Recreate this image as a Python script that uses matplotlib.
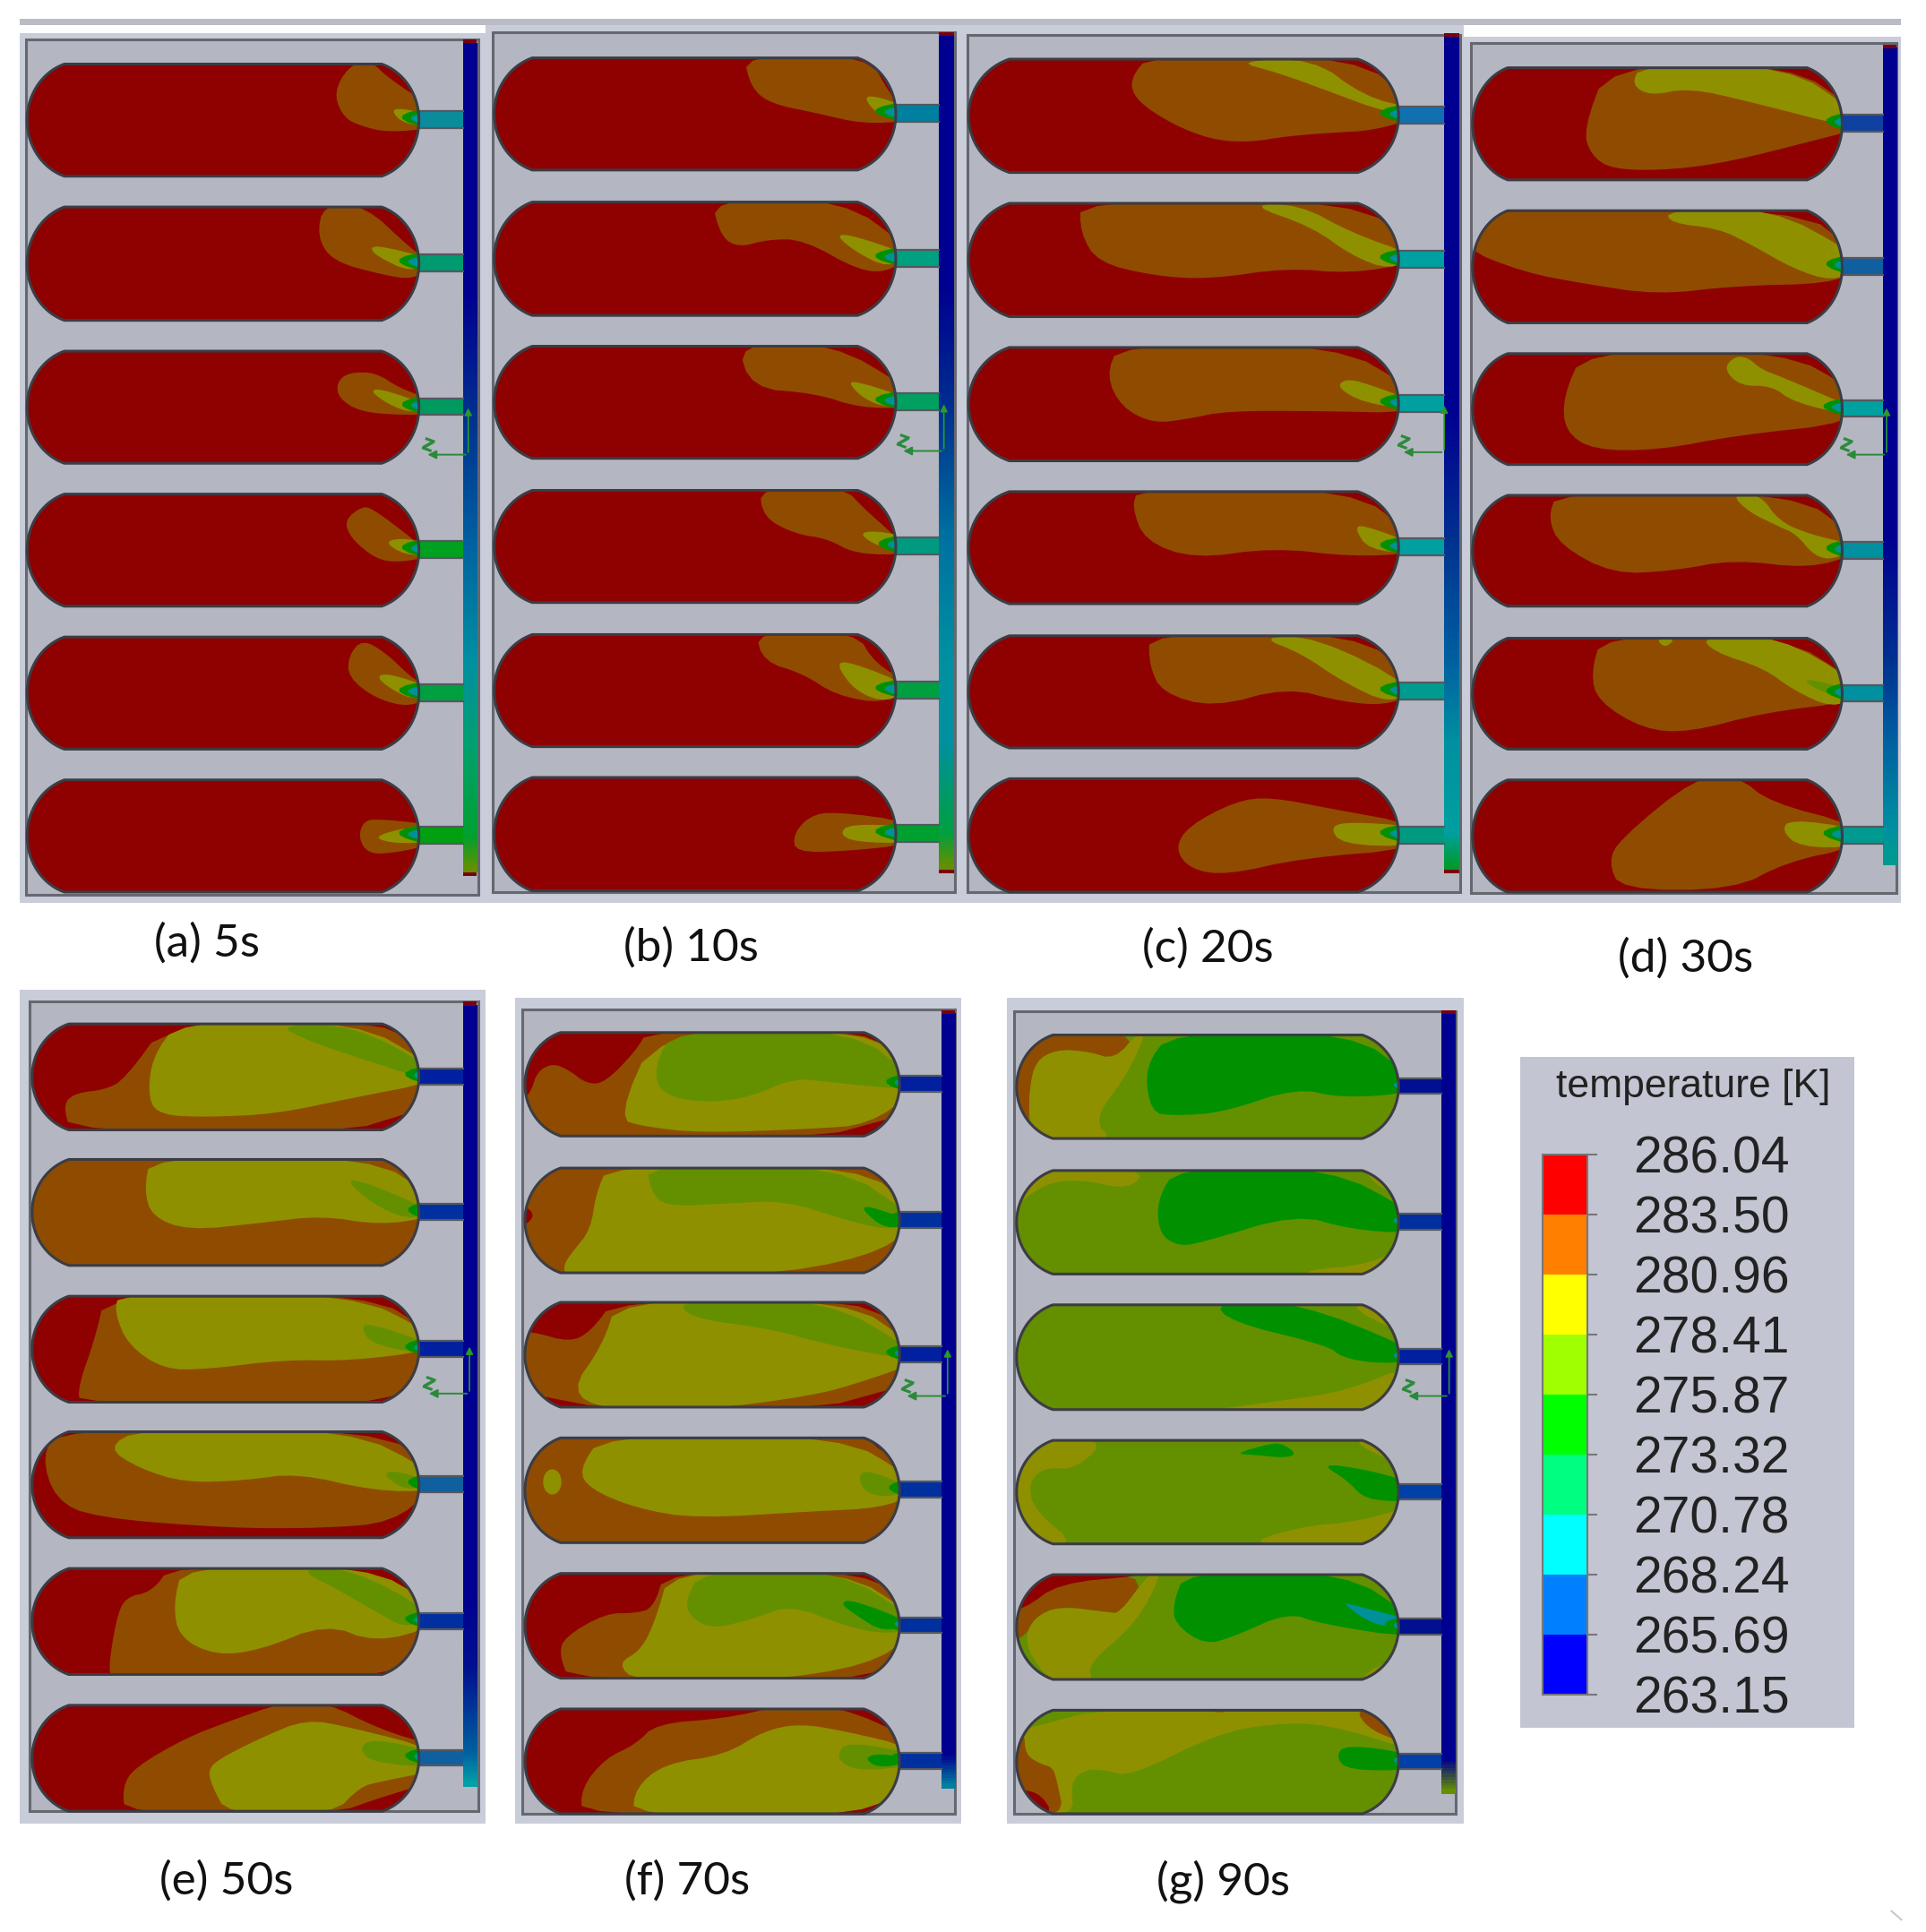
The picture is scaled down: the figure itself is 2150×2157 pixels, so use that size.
import numpy as np
import matplotlib
matplotlib.use("Agg")
import matplotlib.pyplot as plt
from matplotlib.patches import Rectangle, Polygon, PathPatch
from matplotlib.path import Path
from matplotlib.colors import ListedColormap, LinearSegmentedColormap

# legend
temp_ticks = [263.15, 265.69, 268.24, 270.78, 273.32, 275.87, 278.41, 280.96, 283.50, 286.04]
band_colors = ["#0000ff", "#0080ff", "#00ffff", "#00ff80", "#00ff00", "#a0ff00", "#ffff00", "#ff8000", "#ff0000"]

shade = {"R": "#8f0000", "O": "#8f4c00", "Y": "#8f9000", "L": "#649000", "G": "#009000", "T": "#009098"}

# panel frame, capsule extents, manifold in picture units
panel_names = ["(a) 5s", "(b) 10s", "(c) 20s", "(d) 30s", "(e) 50s", "(f) 70s", "(g) 90s"]
label_x = [168, 561, 980, 1368, 184, 558, 993]
label_y = [766, 769, 770, 778, 1527, 1527, 1527]
bg_box = [(16, 27, 394, 733), (394, 20, 780, 733), (780, 20, 1188, 733), (1188, 30, 1543, 733),
          (16, 803, 394, 1480), (418, 810, 780, 1480), (817, 810, 1188, 1480)]
frame_box = [(21, 32, 388, 726), (400, 26, 775, 724), (785, 28, 1185, 724), (1194, 35, 1539, 725),
             (24, 813, 388, 1470), (424, 819, 775, 1472), (823, 821, 1181, 1472)]
caps_x = [(22, 340), (401, 727), (786, 1135), (1195, 1495), (26, 340), (426, 730), (825, 1135)]
caps_y = [[(52, 143), (168, 260), (285, 376), (401, 492), (517, 608), (633, 724)],
          [(47, 138), (164, 256), (281, 372), (398, 489), (515, 606), (631, 723)],
          [(48, 140), (165, 257), (282, 374), (399, 490), (516, 607), (632, 724)],
          [(55, 146), (171, 262), (287, 377), (402, 492), (518, 608), (633, 724)],
          [(831, 917), (941, 1027), (1052, 1138), (1162, 1248), (1273, 1359), (1384, 1470)],
          [(838, 922), (948, 1033), (1057, 1142), (1167, 1252), (1277, 1362), (1387, 1472)],
          [(840, 924), (950, 1034), (1059, 1144), (1169, 1253), (1278, 1363), (1388, 1472)]]
header_x = [(376, 387), (762, 774), (1172, 1184), (1528, 1539), (376, 387), (764, 775), (1170, 1181)]
header_y = [(35, 708), (29, 706), (30, 706), (39, 702), (816, 1450), (823, 1452), (823, 1456)]
header_cap = [True, True, True, False, False, False, False]
triad = [(380, 369), (766, 366), (1172, 367), (1531, 369), (381, 1131), (769, 1133), (1176, 1133)]

header_stops = [0, 0.3, 0.45, 0.6, 0.75, 0.85, 0.96, 1]
header_colors = [
    ["#000090", "#000090", "#00308f", "#0060a0", "#0090a0", "#00a070", "#00a030", "#649000"],
    ["#000090", "#000090", "#00308f", "#0070a0", "#0090a0", "#0090a0", "#00a040", "#649000"],
    ["#000090", "#000090", "#000090", "#00308f", "#0060a0", "#0090a0", "#00a0a0", "#009a30"],
    ["#000090", "#000090", "#000090", "#000090", "#00308f", "#0060a0", "#0090a0", "#009a90"],
    ["#000090", "#000090", "#000090", "#000090", "#000090", "#00108f", "#0060a0", "#00a0a8"],
    ["#000090", "#000090", "#000090", "#000090", "#000090", "#000090", "#000090", "#0080a0"],
    ["#000090", "#000090", "#000090", "#000090", "#000090", "#000090", "#000090", "#649000"],
]
stub_colors = [
    ["#0a8c9c", "#009a70", "#009a60", "#00a020", "#00a040", "#00a010"],
    ["#0080a0", "#00a080", "#00a060", "#009a80", "#00a040", "#00a030"],
    ["#1070b0", "#00a0a0", "#00a0a0", "#00a0a0", "#009a90", "#009a80"],
    ["#1040a0", "#1060a0", "#00a0a0", "#0090a0", "#0090a0", "#009a90"],
    ["#0020a0", "#0030a0", "#0020a0", "#1060a0", "#0030a0", "#1060a0"],
    ["#0020a0", "#0030a0", "#0020a0", "#0030a0", "#0030a0", "#0030a0"],
    ["#001090", "#0030a0", "#0020a0", "#0040a8", "#001090", "#0040a8"],
]
tip_u = [[93, 92, 93, 93, 92, 92], [92, 92, 92, 93, 92, 92], [93, 93, 93, 93, 93, 93],
         [93, 93, 92, 93, 93, 92], [94, 95, 94, 95, 94, 94], [94, 95, 94, 95, 94, 95],
         [94, 94, 94, 95, 94, 94]]

# temperature zones, percent of capsule width/height, drawn in order over base colour
base_a = ["R"] * 6
zones_a = [
    [("O", [(84, -2), (80, 12), (78.5, 30), (81, 48), (85, 55), (92, 61), (100, 57), (100, 40), (92, 12), (88, -2)]),
     ("Y", [(93, 42), (95, 39), (100, 46), (100, 56), (96, 53)])],
    [("O", [(75.6, -2), (74, 26), (78, 48), (91, 60), (98.5, 64), (100, 51), (98, 37), (86, -2)]),
     ("Y", [(87.5, 35), (91, 35), (100, 46), (98, 58), (89, 43)])],
    [("O", [(79, 28), (82, 19), (89, 19), (95, 33), (100, 44), (100, 56), (95, 57), (85, 54), (79.5, 42)]),
     ("Y", [(87.5, 36), (90, 33), (100, 50), (99, 55), (93.5, 50)])],
    [("O", [(85.5, 11), (81, 23), (82.5, 39), (89, 58), (95, 61), (100, 55), (99, 42), (94, 28), (88, 13)]),
     ("Y", [(91, 42), (97, 39), (100, 47), (100, 55), (96, 54)])],
    [("O", [(85.5, 2), (82, 17), (82, 36), (89, 55), (98, 63), (100, 49), (98, 36), (91.5, 14)]),
     ("Y", [(89, 36), (92, 32), (100, 46), (99, 56), (94, 49)])],
    [("O", [(86, 36), (90.5, 35), (100, 40), (100, 57), (94, 65), (87, 66), (84.5, 51)]),
     ("Y", [(88, 51), (97, 42), (100, 43), (100, 55), (94, 57)])],
]
base_b = ["R"] * 6
zones_b = [
    [("O", [(62, -3), (64, 27), (69, 41), (80, 49), (92, 59), (100, 56), (99, 35), (93, -3)]),
     ("Y", [(92, 35), (95, 34), (100, 45), (99, 55), (95, 49)])],
    [("O", [(54, -3), (56.5, 31), (61, 40), (68, 33), (77, 33), (91, 61), (99, 61), (100, 42), (86.5, -3)]),
     ("Y", [(85, 29), (89, 29), (100, 47), (98, 58), (90, 44)])],
    [("O", [(60.5, -3), (64, 37.5), (80, 42), (91, 55), (100, 55), (100, 39), (84, -3)]),
     ("Y", [(88, 32), (91, 32), (100, 47), (98, 55), (92, 47)])],
    [("O", [(66, -3), (67, 24), (75, 39), (83, 43), (90, 57), (100, 57), (99, 38), (92, 16), (87, -3)]),
     ("Y", [(91, 38), (95, 36), (100, 42), (99, 53), (94, 47)])],
    [("O", [(65, -3), (67, 24), (77, 35), (85, 54), (97, 62), (100, 43), (95, 27), (90, -3)]),
     ("Y", [(85, 26), (88.5, 24), (100, 46), (98, 61), (90, 51)])],
    [("O", [(74.5, 50), (78.5, 34), (84.5, 30), (100, 39), (100, 59), (87.6, 65), (75, 66)]),
     ("Y", [(86, 50), (88.4, 41), (100, 43), (100, 58), (90, 57)])],
]
base_c = ["R"] * 6
zones_c = [
    [("O", [(42, -3), (38, 15), (38, 30), (42, 45), (50, 62), (58, 72), (66, 73), (74, 68), (84, 65), (94, 63), (100, 52), (100, 40), (90, -3)]),
     ("Y", [(62, 2), (72, 12), (85, 30), (94, 43), (100, 52), (100, 44), (92, 33), (80, -1)])],
    [("O", [(26, -3), (26, 26), (30, 52), (43, 64), (56, 67), (74, 57), (89, 62), (100, 52), (100, 39), (90, -3)]),
     ("Y", [(65, 1), (77, 1), (89, 26), (100, 46), (98, 59), (89, 46), (80, 21)])],
    [("O", [(35, -3), (32, 25), (35.6, 53), (43, 67), (51, 63), (60, 56), (81, 56), (100, 58), (100, 38), (85.5, -3)]),
     ("Y", [(85.5, 35), (88, 27), (95, 35), (100, 48), (100, 55), (92, 49)])],
    [("O", [(39.5, -3), (38, 14), (41, 44), (52.4, 60), (71, 50), (89, 58), (100, 55), (100, 40), (89, -3)]),
     ("Y", [(89.7, 32), (92, 30), (100, 47), (100, 55), (93, 52)])],
    [("O", [(42, -3), (42, 26), (45, 51), (57, 64), (74, 46), (87, 59), (97, 62), (100, 51), (100, 39), (90, -3)]),
     ("Y", [(67.6, 1), (81, 1), (100, 46), (98, 61), (87, 41), (77.5, 16)])],
    [("O", [(48, 62), (51, 42), (62, 20), (70, 16), (85, 27), (100, 40), (100, 62), (77.5, 70), (60, 85), (51.6, 80)]),
     ("Y", [(84, 42), (89, 38), (100, 42), (100, 60), (86.7, 58)])],
]
base_d = ["R"] * 6
zones_d = [
    [("O", [(36.6, -3), (30, 55), (32, 78), (38, 91), (54.5, 91), (70.7, 83), (91, 66), (100, 55), (100, 38), (86, -3)]),
     ("Y", [(45.5, -2), (43, 15), (48, 25), (58.5, 18), (74.7, 30), (100, 55), (100, 40), (85, -2)])],
    [("O", [(-3, -3), (88, -3), (100, 37), (100, 52), (97, 65), (71, 67), (50, 75), (30, 65), (14, 55), (-3, 33)]),
     ("Y", [(52.4, 0), (53.6, 11), (66.6, 16), (74.7, 29), (86.9, 52), (97.4, 63), (100, 52), (100, 39), (80.4, -3)])],
    [("O", [(30, -3), (24.5, 39), (25, 70), (32.6, 87), (50.4, 87), (70.7, 74), (100, 62), (100, 34), (84, -3)]),
     ("Y", [(68, 14), (70.6, 3), (74.3, 3), (78, 14), (83.6, 21), (100, 50), (100, 57), (86.9, 44), (81, 29), (72.3, 29)])],
    [("O", [(23, -3), (20.4, 20), (23.6, 45), (38, 71), (54.5, 68), (70.7, 58), (91, 66), (100, 53), (100, 38), (87, -3)]),
     ("Y", [(70, -1), (77.8, -1), (82.8, 23), (91, 35), (100, 45), (98, 58), (92.5, 55), (87.6, 35), (82.8, 28), (74.7, 15)])],
    [("O", [(35, -3), (32, 32), (34, 57), (46.3, 82), (58.5, 85), (78.8, 67), (100, 57), (100, 39), (83.6, -3)]),
     ("Y", [(62, -2), (65, 12), (78.8, 27), (86.9, 47), (97.4, 63), (100, 52), (100, 39), (82.8, -2)]),
     ("Y", [(49.6, 0), (52, 9), (55, 0)]),
     ("L", [(88.5, 37), (95, 39), (100, 50), (96.6, 52)])],
    [("O", [(60.5, -3), (72, -3), (80.4, 20), (100, 40), (100, 60), (85, 73), (70.7, 98), (40, 98), (36.8, 73), (39.8, 53)]),
     ("Y", [(83.6, 45), (86, 35), (100, 43), (100, 60), (88.5, 60)])],
]
base_e = ["R", "O", "R", "R", "R", "R"]
zones_e = [
    [("O", [(35, -3), (24, 52), (19, 62), (11.5, 65), (8, 75), (10, 103), (103, 103), (103, -3)]),
     ("R", [(91, -3), (103, -3), (103, 37), (100, 37)]),
     ("Y", [(38, -3), (30.9, 32), (30, 72), (33.4, 86), (45, 88), (63, 85), (82.5, 70), (100, 55), (100, 40), (83.6, -3)]),
     ("L", [(63.4, 1), (70.8, 15), (82.5, 30), (100, 55), (100, 42), (83, 1)])],
    [("R", [(24, -3), (27, -3), (27, 1), (24, 1)]),
     ("Y", [(30.6, -3), (29, 29), (31, 54), (40.4, 67), (59, 60), (74.7, 53), (90, 62), (100, 54), (100, 36), (87.5, -3)]),
     ("L", [(80.9, 19), (86, 21), (100, 49), (97, 57), (88, 42)])],
    [("O", [(19, -3), (16.2, 41), (12, 84), (12.3, 103), (103, 103), (103, 36), (100, 36), (87, -3)]),
     ("Y", [(22.5, -3), (21.3, 15), (24.8, 46), (34, 69), (45, 69), (65, 60), (82.5, 61), (100, 51), (100, 36), (82.5, -3)]),
     ("L", [(85, 30), (87, 25), (100, 46), (100, 56), (88, 46)])],
    [("O", [(7, -3), (89.5, -3), (100, 36), (100, 53), (93, 86), (75, 91), (51, 91), (16, 81), (6, 64), (2.5, 23)]),
     ("Y", [(19.3, 15), (28, -3), (81.7, -3), (100, 38), (100, 56), (88.7, 56), (68.4, 39), (55, 46), (39.6, 48), (27.9, 35)]),
     ("L", [(90.6, 41), (93.4, 36), (100, 48), (97, 56)])],
    [("O", [(36, -3), (31, 22), (24, 27), (21.7, 49), (19.7, 95), (21, 103), (103, 103), (103, 42), (100, 42), (88, -3)]),
     ("Y", [(39, -3), (36.5, 34), (38, 65), (47.4, 82), (59, 77), (76, 52), (88.7, 70), (100, 55), (100, 34), (86.3, -3)]),
     ("L", [(68.4, 0), (82.5, 0), (100, 42), (97, 57), (89.4, 42), (78.6, 19)])],
    [("O", [(65, -3), (76, -3), (90, 23), (100, 38), (100, 72), (90, 87), (77.8, 103), (24, 103), (23.4, 77), (26.4, 59), (39.6, 31), (51, 15)]),
     ("Y", [(45.5, 61), (48.2, 51), (59, 31), (70.8, 13), (82.5, 21), (100, 41), (100, 62), (90, 72), (84.8, 77), (77.8, 103), (50.5, 103), (46.6, 77)]),
     ("L", [(84.4, 41), (88, 31), (100, 44), (100, 59), (88, 54)])],
]
base_f = ["R", "O", "R", "O", "R", "R"]
zones_f = [
    [("O", [(33, -3), (29.5, 18), (21.5, 48), (16.7, 50), (11.2, 35), (7.2, 30), (3.2, 38), (1.6, 58), (-3, 75), (-3, 103), (103, 103), (103, -3)]),
     ("Y", [(35, -3), (24.7, 83), (31.9, 91), (47, 97), (77.3, 93), (91.6, 89), (100, 58), (100, 38), (91.6, -3)]),
     ("L", [(39.8, -3), (34.4, 33), (36.3, 60), (47.8, 68), (59.8, 63), (71.7, 44), (81.2, 48), (100, 56), (100, 45), (87.6, -3)])],
    [("R", [(-3, 33), (2, 40), (2, 50), (-3, 60)]),
     ("Y", [(22.3, -3), (19, 24), (17.5, 59), (12.7, 80), (10.4, 92), (10.7, 103), (63, 103), (91.6, 85), (100, 57), (100, 42), (90, -3)]),
     ("L", [(32.6, -3), (33.5, 21), (37.4, 37), (53.4, 34), (69.3, 31), (85, 49), (96.4, 59), (100, 54), (100, 47), (83.7, -3)]),
     ("G", [(89.7, 39), (92, 36), (100, 52), (96.4, 59)])],
    [("O", [(24, -3), (17.5, 28), (12, 38), (2, 28), (-3, 28), (-3, 103), (103, 103), (103, -3)]),
     ("Y", [(24.7, -3), (20.7, 41), (12, 85), (21.5, 103), (47, 103), (77.3, 89), (91.6, 74), (100, 58), (100, 41), (86, -3)]),
     ("L", [(41, -3), (43.8, 15), (65.3, 25), (81.3, 41), (100, 56), (100, 46), (80.5, -3)])],
    [("R", [(88.4, -3), (103, -3), (103, 31), (100, 31)]),
     ("Y", [(14.3, 31), (20.7, -3), (84, -3), (100, 39), (100, 54), (94.8, 67), (77.3, 70), (45.4, 77), (29.5, 67), (17.5, 49)]),
     ("Y", [(7.3, 29), (9.2, 33), (9.9, 42), (9.2, 51), (7.3, 55), (5.4, 51), (4.7, 42), (5.4, 33)]),
     ("L", [(88.8, 37), (91.6, 30), (100, 49), (96.4, 57), (90.8, 52)])],
    [("O", [(37.5, -3), (34.3, 33), (29.5, 38), (21.5, 38), (10.4, 61), (9.2, 78), (12, 103), (103, 103), (103, 38), (100, 38), (92, -3)]),
     ("Y", [(38.6, -3), (35, 43), (31.1, 73), (24.7, 86), (29.5, 103), (63, 103), (91.6, 88), (100, 58), (100, 40), (85.3, -3)]),
     ("L", [(47, -3), (42.6, 28), (44.6, 43), (50.2, 53), (61.3, 43), (70.9, 30), (85.3, 50), (95.6, 58), (100, 53), (100, 43), (84, -3)]),
     ("G", [(84, 28), (87.6, 25), (100, 48), (95.6, 56), (88.4, 40)])],
    [("O", [(68.5, -3), (83.7, -3), (100, 29), (100, 70), (91.6, 97), (15.1, 103), (15.1, 75), (21.5, 47), (29.5, 34), (35, 14), (53.4, 9)]),
     ("Y", [(28.7, 103), (29.5, 75), (37.4, 52), (53.4, 44), (63.7, 21), (73.2, 14), (85.3, 21), (100, 37), (100, 64), (91.6, 103)]),
     ("L", [(83.3, 44), (86, 31), (100, 42), (100, 54), (90.8, 59), (85.3, 54)]),
     ("G", [(90.4, 47), (94.8, 42), (100, 49), (94.8, 57)])],
]
base_g = ["L"] * 6
zones_g = [
    [("O", [(32, -3), (25.6, 24), (18.8, 16), (10.5, 14), (5, 25), (3.3, 53), (3.3, 95), (-3, 95), (-3, -3)]),
     ("Y", [(34, -3), (29, 38), (20, 82), (25.5, 103), (9.6, 103), (3.3, 90), (3.3, 53), (5, 25), (10.5, 14), (18.8, 16), (25.6, 24), (32, -3)]),
     ("G", [(40.6, -3), (33.5, 30), (35.1, 75), (41.4, 78), (54, 75), (73.2, 51), (85, 61), (100, 56), (100, 41), (87.5, -3)])],
    [("Y", [(-3, -3), (34, -3), (29.7, 19), (16.3, 8), (7, 13), (-3, 42)]),
     ("Y", [(76, 96), (92, 91), (100, 70), (103, 103), (76, 103)]),
     ("Y", [(88, -3), (103, -3), (103, 37), (100, 37)]),
     ("G", [(41.9, -3), (36.8, 28), (37.3, 61), (42.3, 73), (48.1, 70), (73.2, 42), (87.5, 57), (100, 61), (100, 40), (81.6, -3)])],
    [("G", [(51.9, -3), (55.7, 16), (81.6, 39), (85, 50), (94, 56), (100, 54), (100, 42), (73.2, -3)]),
     ("Y", [(45.7, 103), (70.7, 91), (86.6, 82), (100, 56), (103, 103)]),
     ("Y", [(84.2, -3), (103, -3), (103, 33), (100, 33)])],
    [("Y", [(-3, -3), (24, -3), (15.6, 28), (7, 26), (3, 42), (4.7, 68), (16.4, 103), (-3, 103)]),
     ("Y", [(58.6, 103), (72.7, 84), (90.6, 78), (100, 62), (103, 103)]),
     ("Y", [(85, -3), (103, -3), (103, 30), (100, 30)]),
     ("G", [(57, 13), (66.4, 3), (69.5, 3), (73.4, 13), (70.3, 17), (62.3, 14)]),
     ("G", [(79.3, 22), (86.7, 39), (90.6, 55), (96.9, 59), (100, 58), (100, 41), (91.4, 28)])],
    [("O", [(35, -3), (27, 37), (24.2, 36), (11, 30), (4.7, 41), (2.3, 59), (-3, 65), (-3, -3)]),
     ("R", [(-3, -3), (33, -3), (33, 1), (11, 8), (2, 33), (-3, 33)]),
     ("Y", [(38.3, -3), (31.2, 47), (18.4, 86), (20.3, 103), (9.4, 103), (3.9, 79), (2.3, 59), (4.7, 41), (11, 30), (24.2, 36), (27, 37), (35, -3)]),
     ("Y", [(90, -3), (103, -3), (103, 36), (100, 36)]),
     ("Y", [(86.7, 103), (100, 70), (103, 103)]),
     ("G", [(44.2, -3), (41, 27), (41.4, 47), (49.2, 67), (57, 59), (71, 36), (79.7, 47), (100, 61), (100, 41), (85.9, -3)]),
     ("T", [(85.2, 27), (88.3, 29), (100, 44), (100, 50), (93.7, 49)])],
    [("Y", [(-3, -3), (103, -3), (103, 39), (100, 39), (81.3, 13), (66.4, 13), (52.3, 23), (29.7, 64), (23.4, 58), (18, 57), (14, 70), (15.2, 103), (-3, 103)]),
     ("O", [(-3, 15), (2, 20), (2.3, 43), (6.3, 52), (9.4, 55), (10.5, 67), (12.5, 103), (-3, 103)]),
     ("R", [(-3, 78), (5.5, 77), (10.2, 103), (-3, 103)]),
     ("Y", [(91.4, 96), (100, 64), (103, 103)]),
     ("O", [(88.7, -3), (91.4, 16), (99, 29), (103, 29), (103, -3)]),
     ("O", [(47.7, -3), (53, 3.5), (58.6, -3)]),
     ("G", [(83.6, 45), (86, 33), (100, 42), (100, 58), (86.7, 58)])],
]
all_bases = [base_a, base_b, base_c, base_d, base_e, base_f, base_g]
all_zones = [zones_a, zones_b, zones_c, zones_d, zones_e, zones_f, zones_g]


def capsule_path(x0, x1, y0, y1):
    # stadium with slightly cut ends, like the solver's tank outline
    w = x1 - x0
    h = y1 - y0
    end = 0.095 * w
    t = np.radians(np.linspace(-72, 72, 40))
    rx = end / (1 - np.cos(np.radians(72)))
    ry = h / 2 / np.sin(np.radians(72))
    cy = (y0 + y1) / 2
    right = np.c_[x1 - rx + rx * np.cos(t), cy + ry * np.sin(t)]
    left = np.c_[x0 + rx - rx * np.cos(t[::-1]), cy + ry * np.sin(t[::-1])]
    pts = np.vstack([right, left, right[:1]])
    return Path(pts, closed=True)


def smooth(pts, n=2):
    # corner cutting, points on the wall get pushed out so the rounding falls outside the clip
    p = np.array(pts, dtype=float)
    p[p[:, 0] >= 100, 0] = 104
    for _ in range(n):
        q = np.roll(p, -1, axis=0)
        p = np.column_stack([0.75 * p + 0.25 * q, 0.25 * p + 0.75 * q]).reshape(-1, 2)
    return p


fig = plt.figure(figsize=(21.5, 21.57), dpi=100)
ax = fig.add_axes([0, 0, 1, 1])

for p in range(7):
    bx0, by0, bx1, by1 = bg_box[p]
    ax.add_patch(Rectangle((bx0, by0), bx1 - bx0, by1 - by0, fc="#c9cdd9", ec="none", zorder=1))
    fx0, fy0, fx1, fy1 = frame_box[p]
    ax.add_patch(Rectangle((fx0, fy0), fx1 - fx0, fy1 - fy0, fc="#b4b7c1", ec="#66686f", lw=2.2, zorder=2))

    hx0, hx1 = header_x[p]
    hy0, hy1 = header_y[p]
    cm = LinearSegmentedColormap.from_list("hdr", list(zip(header_stops, header_colors[p])))
    ax.imshow(np.linspace(0, 1, 200)[:, None], extent=(hx0, hx1, hy1, hy0), cmap=cm, aspect="auto",
              interpolation="bilinear", zorder=3)
    ax.add_patch(Rectangle((hx0, hy0 - 3), hx1 - hx0, 3, fc="#7a0010", ec="none", zorder=3))
    if header_cap[p]:
        ax.add_patch(Rectangle((hx0, hy1), hx1 - hx0, 3, fc="#7a0010", ec="none", zorder=3))

    cx0, cx1 = caps_x[p]
    w = cx1 - cx0
    for i in range(6):
        cy0, cy1 = caps_y[p][i]
        h = cy1 - cy0
        # branch pipe from tank to header
        sy0 = cy0 + 0.42 * h
        sy1 = cy0 + 0.57 * h
        ax.add_patch(Rectangle((cx1 - 2, sy0), hx0 - cx1 + 2, sy1 - sy0, fc=stub_colors[p][i],
                               ec="none", zorder=3))
        ax.plot([cx1, hx0], [sy0, sy0], color="#55585f", lw=1.6, zorder=3)
        ax.plot([cx1, hx0], [sy1, sy1], color="#55585f", lw=1.6, zorder=3)
        path = capsule_path(cx0, cx1, cy0, cy1)
        body = PathPatch(path, fc=shade[all_bases[p][i]], ec="none", zorder=4)
        ax.add_patch(body)
        zones = list(all_zones[p][i])
        u0 = tip_u[p][i]
        zones.append(("G", [(u0, 47), (100, 37), (100, 60)]))
        zones.append(("T", [(u0 + 3, 48), (100, 41), (100, 57)]))
        for level, pts in zones:
            uv = smooth(pts)
            xy = np.c_[cx0 + uv[:, 0] / 100 * w, cy0 + uv[:, 1] / 100 * h]
            zp = Polygon(xy, closed=True, fc=shade[level], ec="none", zorder=5)
            ax.add_patch(zp)
            zp.set_clip_path(body)
        ax.add_patch(PathPatch(path, fc="none", ec="#3c3c44", lw=2.2, zorder=6))

    # axis triad
    tx, ty = triad[p]
    ax.annotate("", xy=(tx - 35, ty), xytext=(tx, ty), zorder=7,
                arrowprops=dict(arrowstyle="-|>", color="#2a8a3a", lw=1.4, mutation_scale=14))
    ax.annotate("", xy=(tx, ty - 40), xytext=(tx, ty), zorder=7,
                arrowprops=dict(arrowstyle="-|>", color="#2a9a2a", lw=1.2, mutation_scale=12))
    ax.text(tx - 33, ty - 8, "z", color="#2a8a3a", fontsize=17, ha="center", va="center",
            rotation=-20, fontweight="bold", zorder=7)

    ax.text(label_x[p], label_y[p], panel_names[p], family="Lato", fontsize=37, color="#111111",
            ha="center", va="center")

# rule along the top of the page
ax.add_patch(Rectangle((16, 15), 1527, 5, fc="#b9bcc4", ec="none", zorder=3))

# legend box
ax.add_patch(Rectangle((1234, 858), 271, 544, fc="#c3c6d2", ec="none", zorder=1))
ax.text(1374, 882, "temperature [K]", family="Liberation Sans", fontsize=32, color="#222222",
        ha="center", va="center")
ax.plot([1535, 1543], [1551, 1558], color="#c8c8c8", lw=1.5)

ax.set_xlim(0, 1563)
ax.set_ylim(1568, 0)
ax.axis("off")

cax = fig.add_axes([1252 / 1563, 1 - 1375 / 1568, 36 / 1563, 438 / 1568])
cax.pcolormesh([0, 1], temp_ticks, np.arange(9)[:, None], cmap=ListedColormap(band_colors), vmin=-0.5, vmax=8.5)
cax.set_xticks([])
cax.yaxis.tick_right()
cax.set_yticks(temp_ticks)
cax.set_yticklabels(["%.2f" % t for t in temp_ticks], family="Liberation Sans", fontsize=41, color="#222222")
cax.tick_params(axis="y", length=8, width=1.5, color="#777777", pad=29)
for s in cax.spines.values():
    s.set_color("#777777")
    s.set_linewidth(1.5)

fig.savefig("out.png", dpi=100)
